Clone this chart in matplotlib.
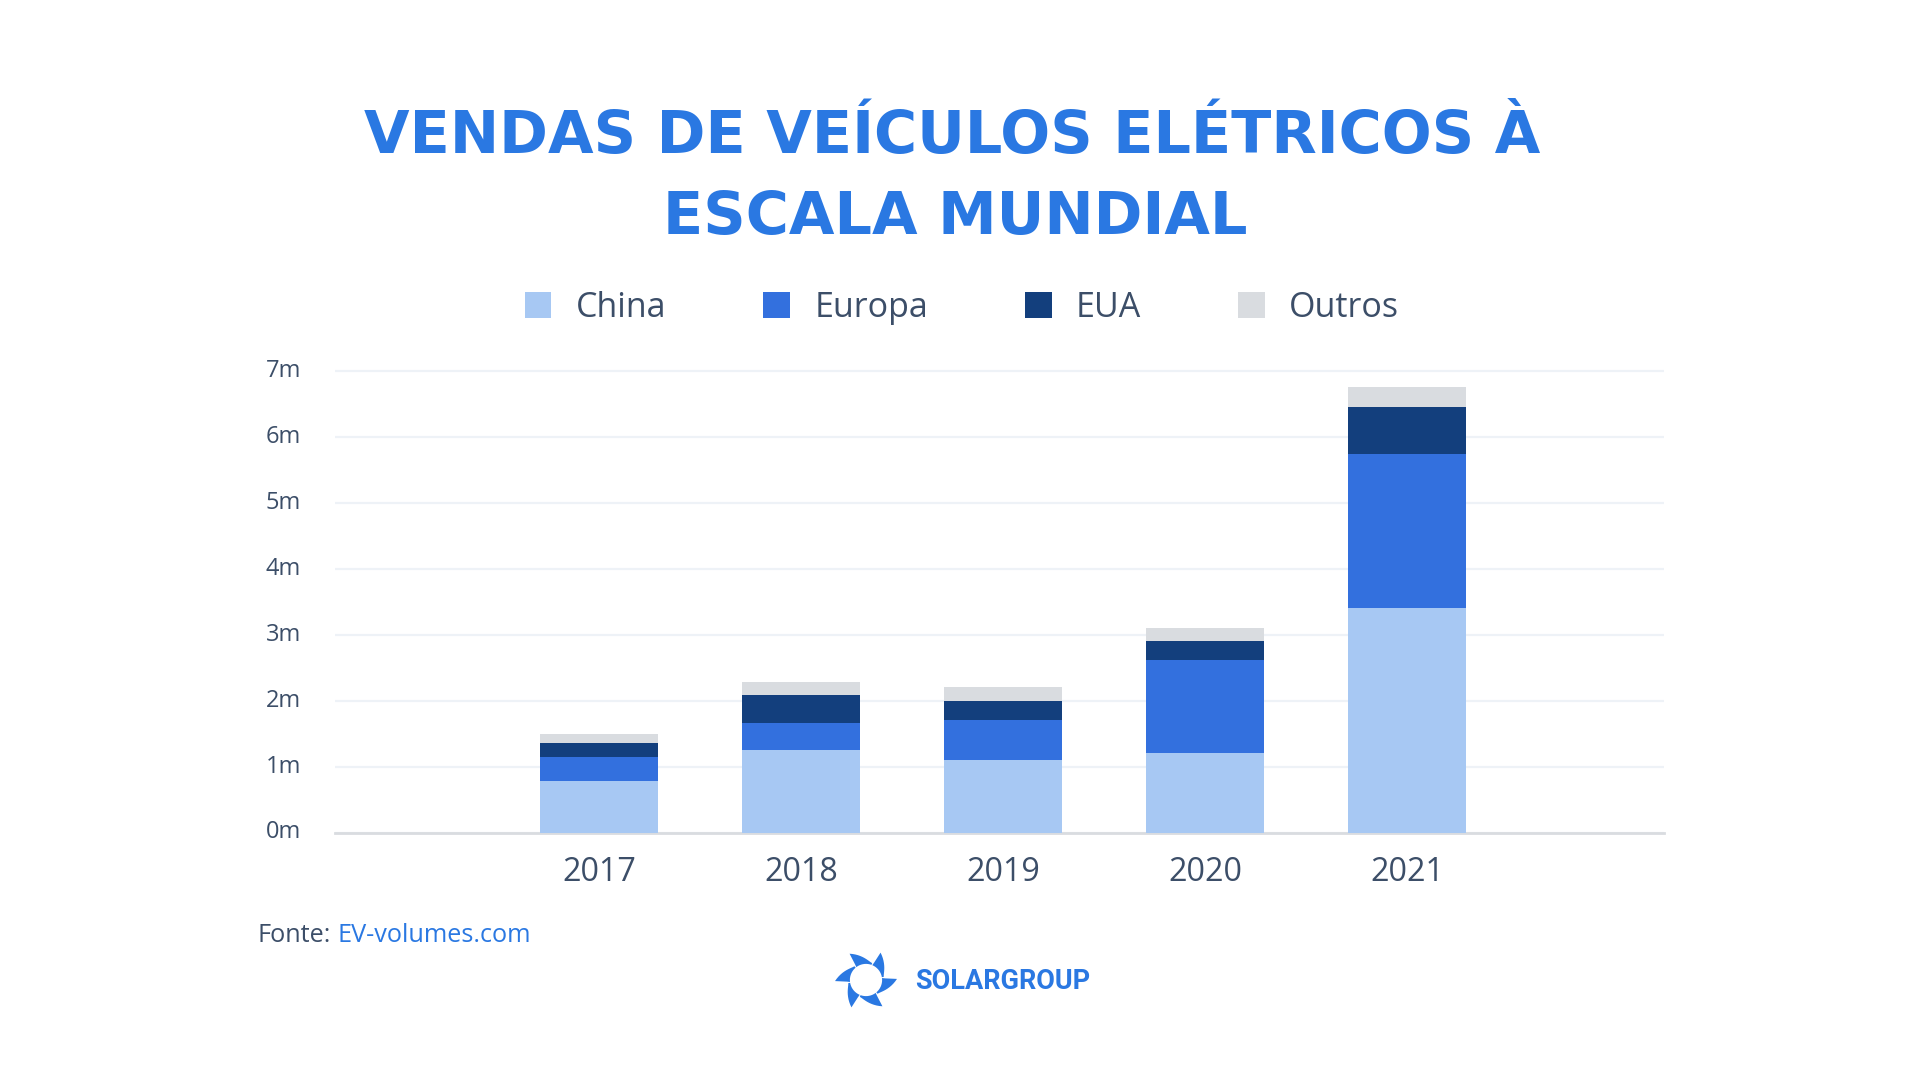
import numpy as np
import matplotlib
matplotlib.use("Agg")
import matplotlib.pyplot as plt
from matplotlib.patches import Patch, Polygon

# dados (milhões de veículos)
anos = ["2017", "2018", "2019", "2020", "2021"]
china = [0.78, 1.25, 1.10, 1.205, 3.40]
europa = [0.364, 0.409, 0.607, 1.409, 2.335]
eua = [0.212, 0.424, 0.287, 0.288, 0.712]
outros = [0.136, 0.197, 0.213, 0.196, 0.303]
series = ["China", "Europa", "EUA", "Outros"]
cores = ["#A7C8F3", "#3370DE", "#133F7D", "#D9DCE0"]
yticks = [0, 1, 2, 3, 4, 5, 6, 7]

W, H = 1920, 1080
texto = "#3C4E68"
azul = "#2A78E2"

plt.rcParams["font.family"] = ["Open Sans", "DejaVu Sans"]

fig = plt.figure(figsize=(19.2, 10.8), dpi=100)
fig.patch.set_facecolor("white")

# eixo principal, posicionado em pixels
x0, x1 = 335, 1664
y0 = 832.5
unit = (832.5 - 370.7) / 7
ytop = 7.05
ax = fig.add_axes([x0 / W, (H - y0) / H, (x1 - x0) / W, unit * ytop / H])

x = np.arange(len(anos))
base = np.zeros(len(anos))
for nome, vals, cor in zip(series, [china, europa, eua, outros], cores):
    ax.bar(x, vals, bottom=base, width=0.587, color=cor, zorder=3, label=nome)
    base = base + np.array(vals)

ax.set_xlim(-1.307, 5.273)
ax.set_ylim(0, ytop)
ax.set_yticks(yticks)
ax.set_yticklabels([f"{v}m" for v in yticks])
ax.set_xticks(x)
ax.set_xticklabels(anos)
ax.grid(axis="y", color="#EEF2F7", linewidth=1.6, zorder=0)
ax.set_axisbelow(True)
for s in ["top", "right", "left"]:
    ax.spines[s].set_visible(False)
ax.spines["bottom"].set_color("#D9DCE0")
ax.spines["bottom"].set_linewidth(2.0)
ax.tick_params(axis="both", length=0)
ax.tick_params(axis="y", labelsize=17, labelcolor=texto, pad=49.7)
ax.tick_params(axis="x", labelsize=23.2, labelcolor=texto, pad=17)
for lab in ax.get_yticklabels():
    lab.set_horizontalalignment("left")
    lab.set_verticalalignment("center")

# legenda
handles = [Patch(facecolor=c, edgecolor="none") for c in cores]
fig.legend(handles, series, loc="center", ncol=4, frameon=False,
           bbox_to_anchor=(962 / W, 1 - 308 / H), fontsize=24.5,
           labelcolor=texto, handlelength=0.78, handleheight=0.78,
           handletextpad=0.72, columnspacing=2.85)

# título
fig.text(952 / W, 1 - 152.7 / H, "VENDAS DE VEÍCULOS ELÉTRICOS À",
         ha="center", va="baseline", fontsize=42.4, fontweight="bold",
         color=azul, family=["DejaVu Sans"])
fig.text(955 / W, 1 - 234 / H, "ESCALA MUNDIAL",
         ha="center", va="baseline", fontsize=42.4, fontweight="bold",
         color=azul, family=["DejaVu Sans"])

# fonte
fig.text(257 / W, 1 - 941.7 / H, "Fonte:", ha="left", va="baseline",
         fontsize=18.2, color=texto)
fig.text(337 / W, 1 - 941.7 / H, "EV-volumes.com", ha="left", va="baseline",
         fontsize=18.2, color=azul)

# logotipo
lax = fig.add_axes([826 / W, 1 - 1015 / H, 80 / W, 70 / H])
lax.set_xlim(-40, 40)
lax.set_ylim(-35, 35)
lax.set_aspect("equal")
lax.axis("off")
R = 31
for k in range(6):
    a0 = np.deg2rad(k * 60 + 10)
    pts = []
    for t in np.linspace(0, 1, 12):
        a = a0 + t * np.deg2rad(52)
        r = R * (0.58 + 0.42 * t ** 1.5)
        pts.append((r * np.cos(a), r * np.sin(a)))
    a_end = a0 + np.deg2rad(52)
    pts.append((R * 0.62 * np.cos(a_end + 0.05), R * 0.62 * np.sin(a_end + 0.05)))
    for t in np.linspace(1, 0, 10):
        a = a0 + t * np.deg2rad(57)
        r = R * 0.52
        pts.append((r * np.cos(a), r * np.sin(a)))
    lax.add_patch(Polygon(pts, closed=True, facecolor=azul, edgecolor="none"))

fig.text(915.6 / W, 1 - 989.3 / H, "SOLARGROUP", ha="left", va="baseline",
         fontsize=19.5, fontweight="bold", color=azul, family=["Roboto"])

fig.savefig("out.png", dpi=100, facecolor="white")
